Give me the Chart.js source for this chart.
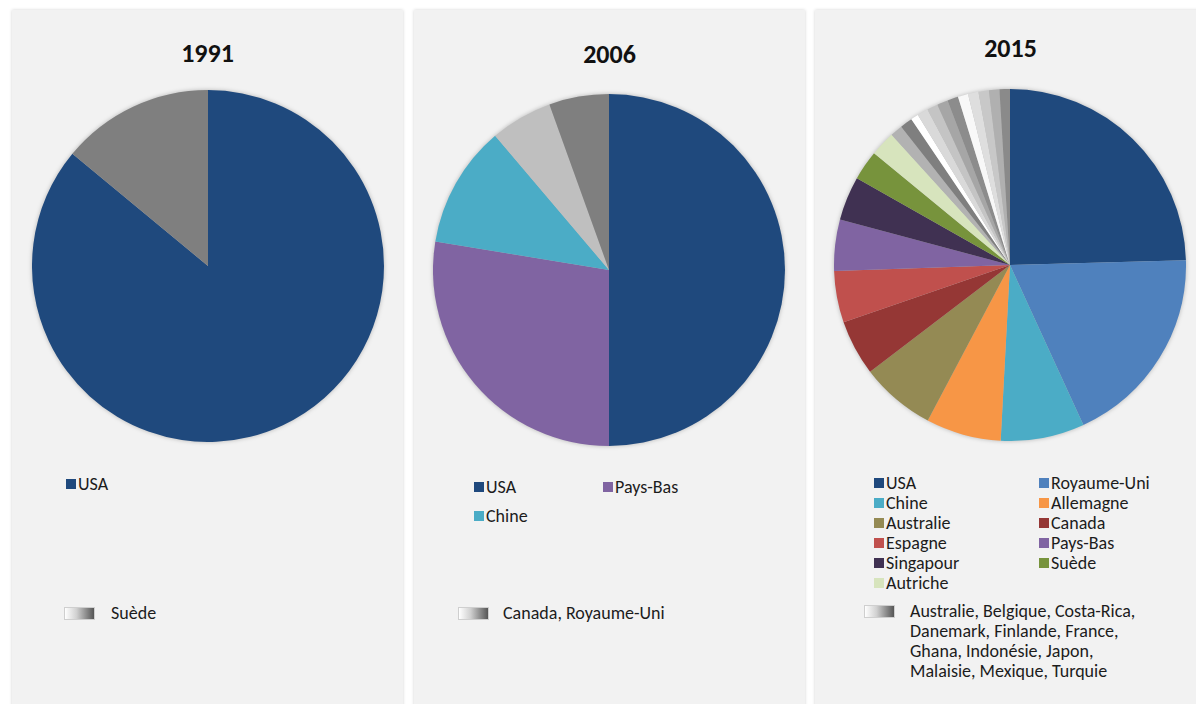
<!DOCTYPE html>
<html>
<head>
<meta charset="utf-8">
<script src="https://cdn.jsdelivr.net/npm/chart.js@4"></script>
<style>
  html, body { margin:0; padding:0; background:#ffffff; width:1196px; height:704px; overflow:hidden; font-family: Carlito, Lato, "Open Sans", sans-serif; }
  .panel { position:absolute; top:10px; width:391px; height:720px; background:#f2f2f2; box-shadow:0 0 3px rgba(0,0,0,0.18); }
  .title { position:absolute; left:0; width:100%; text-align:center; font-weight:bold; font-size:26px; color:#111; }
  .pie { position:absolute; width:352px; height:352px; filter: drop-shadow(0 0 2px rgba(0,0,0,0.25)); }
  .leg { position:absolute; font-size:18px; color:#1c1c1c; line-height:20px; white-space:nowrap; }
  .sq { position:absolute; width:10px; height:10px; }
  .grad { position:absolute; width:29px; height:11px; background:linear-gradient(to right,#ffffff,#d0d0d0 40%,#555555); border:1px solid #cfcfcf; }
</style>
</head>
<body>
<div id="root"></div>
<script>
// ---------- data ----------
const titles = ['1991', '2006', '2015'];

const labels1991 = ['USA', 'Suède'];
const values1991 = [86, 14];
const colors1991 = ['#1f497d', '#7f7f7f'];

const labels2006 = ['USA', 'Pays-Bas', 'Chine', 'Canada', 'Royaume-Uni'];
const values2006 = [50, 27.6, 11.2, 5.7, 5.5];
const colors2006 = ['#1f497d', '#8064a2', '#4bacc6', '#bfbfbf', '#7f7f7f'];

const labels2015main = ['USA', 'Royaume-Uni', 'Chine', 'Allemagne', 'Australie', 'Canada',
  'Espagne', 'Pays-Bas', 'Singapour', 'Suède', 'Autriche'];
const values2015main = [24.6, 18.6, 7.7, 6.9, 6.9, 5.1, 4.75, 4.7, 4.05, 2.75, 2.3];
const colors2015main = ['#1f497d', '#4f81bd', '#4bacc6', '#f79646', '#948a54', '#953735',
  '#c0504d', '#8064a2', '#403152', '#77933c', '#d7e4bd'];

const labels2015other = ['Australie', 'Belgique', 'Costa-Rica', 'Danemark', 'Finlande', 'France',
  'Ghana', 'Indonésie', 'Japon', 'Malaisie', 'Mexique', 'Turquie'];
const values2015other = [1.14, 1.14, 0.7, 1.0, 1.0, 1.0, 1.0, 0.94, 0.96, 0.96, 0.96, 0.96];
const colors2015other = ['#b2b2b2', '#7f7f7f', '#ffffff', '#d9d9d9', '#c4c4c4', '#a6a6a6',
  '#8c8c8c', '#f8f8f8', '#dedede', '#c8c8c8', '#b0b0b0', '#8a8a8a'];

// legend groupings (names shown with the gradient swatch)
const other1991 = ['Suède'];
const other2006 = ['Canada, Royaume-Uni'];
const other2015Lines = ['Australie, Belgique, Costa-Rica,', 'Danemark, Finlande, France,',
  'Ghana, Indonésie, Japon,', 'Malaisie, Mexique, Turquie'];

// ---------- layout ----------
const root = document.getElementById('root');
const panelsX = [12, 414, 815];
const titleY = [37, 38, 32];
const pieCenters = [[208, 266], [609, 270], [1010, 265]];

function el(tag, cls, style, parent) {
  const e = document.createElement(tag);
  if (cls) e.className = cls;
  Object.assign(e.style, style || {});
  (parent || root).appendChild(e);
  return e;
}

panelsX.forEach((x, i) => {
  const p = el('div', 'panel', { left: x + 'px' });
  const t = el('div', 'title', { top: (titleY[i] - 10) + 'px' }, p);
  t.textContent = titles[i];
});

function makePie(idx, labels, values, colors) {
  const [cx, cy] = pieCenters[idx];
  const wrap = el('div', 'pie', { left: (cx - 176) + 'px', top: (cy - 176) + 'px' });
  const c = document.createElement('canvas');
  c.width = 352; c.height = 352;
  wrap.appendChild(c);
  new Chart(c, {
    type: 'pie',
    data: { labels: labels, datasets: [{ data: values, backgroundColor: colors, borderWidth: 0, hoverOffset: 0 }] },
    options: {
      responsive: false, animation: false, maintainAspectRatio: false,
      layout: { padding: 0 },
      plugins: { legend: { display: false }, tooltip: { enabled: false }, title: { display: false } }
    }
  });
}

makePie(0, labels1991, values1991, colors1991);
makePie(1, labels2006, values2006, colors2006);
makePie(2, labels2015main.concat(labels2015other), values2015main.concat(values2015other),
  colors2015main.concat(colors2015other));

function legendItem(x, y, color, text) {
  el('div', 'sq', { left: x + 'px', top: (y - 5) + 'px', background: color });
  const t = el('div', 'leg', { left: (x + 12) + 'px', top: (y - 10) + 'px' });
  t.textContent = text;
}
function gradItem(x, y, textX, lines) {
  el('div', 'grad', { left: x + 'px', top: (y - 6) + 'px' });
  const t = el('div', 'leg', { left: textX + 'px', top: (y - 10) + 'px' });
  t.innerHTML = lines.map(s => s.replace(/&/g, '&amp;').replace(/</g, '&lt;')).join('<br>');
}

// 1991 legend
legendItem(66, 484, colors1991[0], labels1991[0]);
gradItem(64, 613, 111, other1991);

// 2006 legend
legendItem(474, 487, colors2006[0], labels2006[0]);
legendItem(603, 487, colors2006[1], labels2006[1]);
legendItem(474, 516, colors2006[2], labels2006[2]);
gradItem(458, 613, 503, other2006);

// 2015 legend (two columns)
labels2015main.forEach((lab, i) => {
  const col = i % 2, row = Math.floor(i / 2);
  legendItem(col ? 1039 : 874, 483 + row * 20, colors2015main[i], lab);
});
gradItem(864, 611, 910, other2015Lines);
</script>
</body>
</html>
